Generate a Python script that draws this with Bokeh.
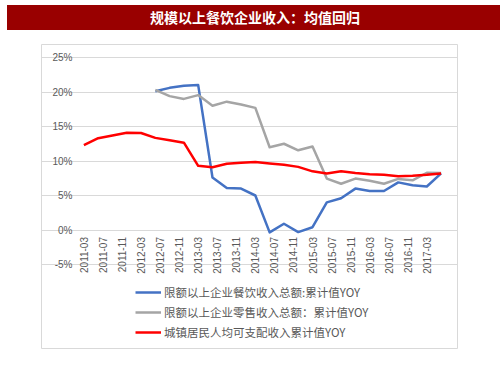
import math
from bokeh.plotting import figure
from bokeh.models import (FixedTicker, Range1d, Legend, LegendItem, Div, Spacer)
from bokeh.layouts import column, row
from bokeh.embed import file_html
from bokeh.resources import INLINE

title_text = "规模以上餐饮企业收入：均值回归"

quarters = ["2011-03", "2011-06", "2011-09", "2011-12",
            "2012-03", "2012-06", "2012-09", "2012-12",
            "2013-03", "2013-06", "2013-09", "2013-12",
            "2014-03", "2014-06", "2014-09", "2014-12",
            "2015-03", "2015-06", "2015-09", "2015-12",
            "2016-03", "2016-06", "2016-09", "2016-12",
            "2017-03", "2017-06"]

catering_yoy = [None, None, None, None, None,
                20.1, 20.6, 20.9, 21.0,
                7.6, 6.1, 6.0, 5.0,
                -0.35, 0.9, -0.3, 0.4,
                4.0, 4.6, 6.0, 5.65,
                5.65, 6.9, 6.5, 6.3,
                8.2]

retail_yoy = [None, None, None, None, None,
              20.3, 19.4, 19.0, 19.55,
              18.0, 18.6, 18.2, 17.7,
              12.0, 12.5, 11.55, 12.1,
              7.45, 6.7, 7.45, 7.15,
              6.7, 7.4, 7.2, 8.3,
              8.25]

income_yoy = [12.3, 13.3, 13.7, 14.1,
              14.05, 13.35, 13.0, 12.65,
              9.3, 9.1, 9.6, 9.75,
              9.85, 9.65, 9.45, 9.15,
              8.5, 8.2, 8.5, 8.25,
              8.07, 8.0, 7.8, 7.85,
              8.0, 8.2]

series_names = ["限额以上企业餐饮收入总额:累计值YOY",
                "限额以上企业零售收入总额：累计值YOY",
                "城镇居民人均可支配收入累计值YOY"]
series_colors = ["#4472C4", "#A5A5A5", "#FF0000"]

x_tick_labels = ["2011-03", "2011-07", "2011-11", "2012-03", "2012-07", "2012-11",
                 "2013-03", "2013-07", "2013-11", "2014-03", "2014-07", "2014-11",
                 "2015-03", "2015-07", "2015-11", "2016-03", "2016-07", "2016-11",
                 "2017-03"]
y_ticks = [-5, 0, 5, 10, 15, 20, 25]
y_tick_labels = ["-5%", "0%", "5%", "10%", "15%", "20%", "25%"]


def month_index(s):
    y, m = s.split("-")
    return (int(y) - 2011) * 12 + (int(m) - 3)


xq = [month_index(q) for q in quarters]
x_ticks = [month_index(t) for t in x_tick_labels]

# geometry of the bordered chart box (the frame) and the inner data area
box_w, box_h = 416, 304
x_lo, x_hi = -0.5, 75.5            # data area in months
px_per_month = 362 / (x_hi - x_lo)
px_per_pct = 6.9
x_start = x_lo - 40 / px_per_month
x_end = x_hi + 14 / px_per_month
y_end = 25 + 13 / px_per_pct
y_start = -5 - 84 / px_per_pct

p = figure(width=box_w + 2, height=box_h + 2, output_backend="svg", toolbar_location=None,
           x_range=Range1d(x_start, x_end), y_range=Range1d(y_start, y_end),
           min_border_left=1, min_border_right=1, min_border_top=1,
           min_border_bottom=1)
p.outline_line_color = "#D9D9D9"
p.outline_line_width = 1
p.background_fill_color = "white"
p.border_fill_color = "white"

# axes
p.xaxis.ticker = FixedTicker(ticks=x_ticks)
p.xaxis.major_label_overrides = {t: l for t, l in zip(x_ticks, x_tick_labels)}
p.xaxis.fixed_location = 0
p.xaxis.axis_line_color = None
p.xaxis.major_tick_line_color = None
p.xaxis.minor_tick_line_color = None
p.xaxis.major_tick_out = 0
p.xaxis.major_tick_in = 0
p.xaxis.major_label_orientation = math.pi / 2
p.xaxis.major_label_standoff = 7
p.xaxis.major_label_text_font = "Liberation Sans"
p.xaxis.major_label_text_font_size = "10px"
p.xaxis.major_label_text_color = "#595959"

p.yaxis.ticker = FixedTicker(ticks=y_ticks)
p.yaxis.major_label_overrides = {t: l for t, l in zip(y_ticks, y_tick_labels)}
p.yaxis.fixed_location = x_lo
p.yaxis.axis_line_color = None
p.yaxis.major_tick_line_color = None
p.yaxis.minor_tick_line_color = None
p.yaxis.major_tick_out = 0
p.yaxis.major_tick_in = 0
p.yaxis.major_label_standoff = 9
p.yaxis.major_label_text_font = "Liberation Sans"
p.yaxis.major_label_text_font_size = "10px"
p.yaxis.major_label_text_color = "#595959"

p.xgrid.visible = False
p.ygrid.ticker = FixedTicker(ticks=y_ticks)
p.ygrid.bounds = (x_lo, x_hi)
p.ygrid.grid_line_color = "#D9D9D9"
p.ygrid.grid_line_width = 1


def clean(xs, ys):
    px, py = [], []
    for a, b in zip(xs, ys):
        if b is not None:
            px.append(a)
            py.append(b)
    return px, py


renderers = []
for ys, c in zip([catering_yoy, retail_yoy, income_yoy], series_colors):
    cx, cy = clean(xq, ys)
    r = p.line(cx, cy, line_color=c, line_width=2.5, line_join="round")
    renderers.append(r)

legend = Legend(items=[LegendItem(label=n, renderers=[r]) for n, r in zip(series_names, renderers)],
                location=(94, 6), orientation="vertical", padding=0, spacing=0, margin=0,
                glyph_width=26, glyph_height=20, label_height=20, label_standoff=3,
                label_text_font_size="11.5px", label_text_color="#595959",
                label_text_font="Noto Sans CJK SC",
                border_line_color=None, background_fill_alpha=0)
p.add_layout(legend)

title = Div(text=title_text, width=496, height=25,
            styles={"background-color": "#990000", "color": "white",
                    "font-weight": "bold", "font-size": "14px",
                    "text-align": "center", "line-height": "25px",
                    "font-family": "Noto Sans CJK SC"})

layout = column(row(Spacer(width=2, height=25), title, spacing=0),
                Spacer(width=10, height=8),
                row(Spacer(width=40, height=box_h + 2), p, spacing=0),
                spacing=0)
open("out.html", "w").write(file_html(layout, INLINE))
